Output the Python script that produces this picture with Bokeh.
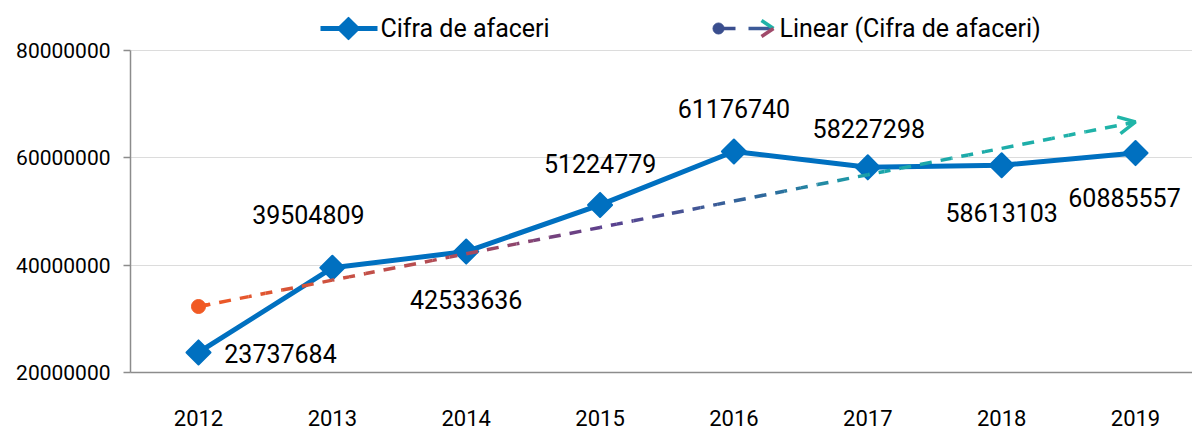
import math
import numpy as np
from bokeh.plotting import figure
from bokeh.models import (Range1d, FixedTicker, ColumnDataSource, Arrow, OpenHead)
from bokeh.core.properties import value
from bokeh.embed import file_html
from bokeh.resources import INLINE

# ---------------- data ----------------
years = ["2012", "2013", "2014", "2015", "2016", "2017", "2018", "2019"]
revenue = [23737684, 39504809, 42533636, 51224779, 61176740, 58227298, 58613103, 60885557]
y_ticks = [20000000, 40000000, 60000000, 80000000]
y_tick_labels = ["20000000", "40000000", "60000000", "80000000"]
series_name = "Cifra de afaceri"
trend_name = "Linear (Cifra de afaceri)"

# label placement (screen px offsets from each point)
label_dx = [82, -24, 0, 0, 0, 1, 0, -11]
label_dy = [1, -53, 48, -41, -43, -39, 47, 44]

FONT = "Roboto"
BLUE = "#0070C0"

# ---------------- geometry ----------------
W, H = 1192, 432
BL, BR, BT, BB = 130, 0, 0, 60
FW, FH = W - BL - BR, H - BT - BB
px_per_cat = 133.86
x0 = -68.0 / px_per_cat
x1 = x0 + FW / px_per_cat
y_lo = 20000000.0
px_per_val = 322.0 / 60000000.0
y_hi = y_lo + FH / px_per_val

def px2x(X):  # picture px -> data x
    return x0 + (X - BL) / px_per_cat

def px2y(Y):  # picture px -> data y
    return y_lo + ((BT + FH) - Y) / px_per_val

p = figure(width=W, height=H, output_backend="svg", toolbar_location=None,
           x_range=Range1d(x0, x1), y_range=Range1d(y_lo, y_hi),
           min_border_left=BL, min_border_right=BR, min_border_top=BT,
           min_border_bottom=BB)
p.outline_line_color = None
p.background_fill_color = "white"
p.border_fill_color = "white"

xs = list(range(len(years)))

# axes
p.yaxis.ticker = FixedTicker(ticks=y_ticks)
p.yaxis.major_label_overrides = {t: l for t, l in zip(y_ticks, y_tick_labels)}
p.yaxis.bounds = (y_ticks[0], y_ticks[-1])
p.yaxis.axis_line_color = "#8C8C8C"
p.yaxis.axis_line_width = 1.5
p.yaxis.major_tick_line_color = "#8C8C8C"
p.yaxis.major_tick_line_width = 1.5
p.yaxis.major_tick_out = 7
p.yaxis.major_tick_in = 0
p.yaxis.minor_tick_line_color = None
p.yaxis.major_label_standoff = 13
p.yaxis.major_label_text_font = FONT
p.yaxis.major_label_text_font_size = "21px"
p.yaxis.major_label_text_color = "black"

p.xaxis.ticker = FixedTicker(ticks=xs)
p.xaxis.major_label_overrides = {i: y for i, y in enumerate(years)}
p.xaxis.axis_line_color = "#8C8C8C"
p.xaxis.axis_line_width = 1.5
p.xaxis.major_tick_line_color = None
p.xaxis.minor_tick_line_color = None
p.xaxis.major_label_standoff = 31
p.xaxis.major_label_text_font = FONT
p.xaxis.major_label_text_font_size = "22px"
p.xaxis.major_label_text_color = "black"

p.xgrid.grid_line_color = None
p.ygrid.ticker = FixedTicker(ticks=y_ticks)
p.ygrid.grid_line_color = "#DCDCDC"
p.ygrid.grid_line_width = 1

# main series
p.line(xs, revenue, line_color=BLUE, line_width=5, line_join="round")
p.scatter(xs, revenue, marker="square", angle=math.pi / 4, size=17,
          fill_color=BLUE, line_color=BLUE, line_width=2, line_join="round")

# data labels
src = ColumnDataSource(dict(x=xs, y=revenue, t=[str(v) for v in revenue],
                            dx=label_dx, dy=label_dy))
p.text(x="x", y="y", text="t", x_offset="dx", y_offset="dy", source=src,
       text_align="center", text_baseline="middle", text_font=value(FONT),
       text_font_size="25px", text_color="black")

# linear trend (least squares on the data)
slope, intercept = np.polyfit(xs, revenue, 1)
stops = [(0.0, (241, 90, 36)), (0.28, (170, 74, 90)), (0.43, (92, 63, 142)),
         (0.6, (46, 104, 156)), (0.72, (27, 165, 170)), (1.0, (32, 181, 168))]

def grad(t):
    for (t0, c0), (t1, c1) in zip(stops[:-1], stops[1:]):
        if t <= t1:
            f = (t - t0) / (t1 - t0)
            return "#%02x%02x%02x" % tuple(int(round(a + (b - a) * f)) for a, b in zip(c0, c1))
    return "#%02x%02x%02x" % stops[-1][1]

N = 56
xt = np.linspace(xs[0], xs[-1], N + 1)
yt = slope * xt + intercept
cum = 0.0
DASH = 21.0
for i in range(N):
    seg_len = math.hypot((xt[i + 1] - xt[i]) * px_per_cat, (yt[i + 1] - yt[i]) * px_per_val)
    p.line([xt[i], xt[i + 1]], [yt[i], yt[i + 1]], line_color=grad((i + 0.5) / N),
           line_width=3.5, line_dash="12 9", line_dash_offset=int(round(cum % DASH)))
    cum += seg_len

p.scatter([xt[0]], [yt[0]], size=14, fill_color=grad(0), line_color=grad(0))
p.line([xt[0], xt[0] + 0.08], [yt[0], yt[0] + slope * 0.08], line_color=grad(0), line_width=3.5)
p.add_layout(Arrow(end=OpenHead(size=17, line_color=grad(1.0), line_width=3.5),
                   x_start=xt[-1] - 0.05, y_start=yt[-1] - slope * 0.05,
                   x_end=xt[-1], y_end=yt[-1], line_alpha=0))

# legend (drawn in the free area above the plot)
LY = px2y(28)
p.line([px2x(320), px2x(377)], [LY, LY], line_color=BLUE, line_width=5)
p.scatter([px2x(348)], [LY], marker="square", angle=math.pi / 4, size=15,
          fill_color=BLUE, line_color=BLUE, line_width=2, line_join="round")
p.text([px2x(380)], [LY], text=[series_name], text_align="left", text_baseline="middle",
       text_font=value(FONT), text_font_size="25px", text_color="black")

p.scatter([px2x(718)], [LY], size=11, fill_color="#3A4E8E", line_color="#3A4E8E")
p.line([px2x(718), px2x(735)], [LY, LY], line_color="#3A4E8E", line_width=3.5)
p.line([px2x(748), px2x(771)], [LY, LY], line_color="#3C5A98", line_width=3.5)
p.line([px2x(761), px2x(773)], [px2y(20), LY], line_color="#1FB2A8", line_width=3.5)
p.line([px2x(773), px2x(761)], [LY, px2y(36)], line_color="#A04A6A", line_width=3.5)
p.text([px2x(779)], [LY], text=[trend_name], text_align="left", text_baseline="middle",
       text_font=value(FONT), text_font_size="25px", text_color="black")

open("out.html", "w").write(file_html(p, INLINE))
